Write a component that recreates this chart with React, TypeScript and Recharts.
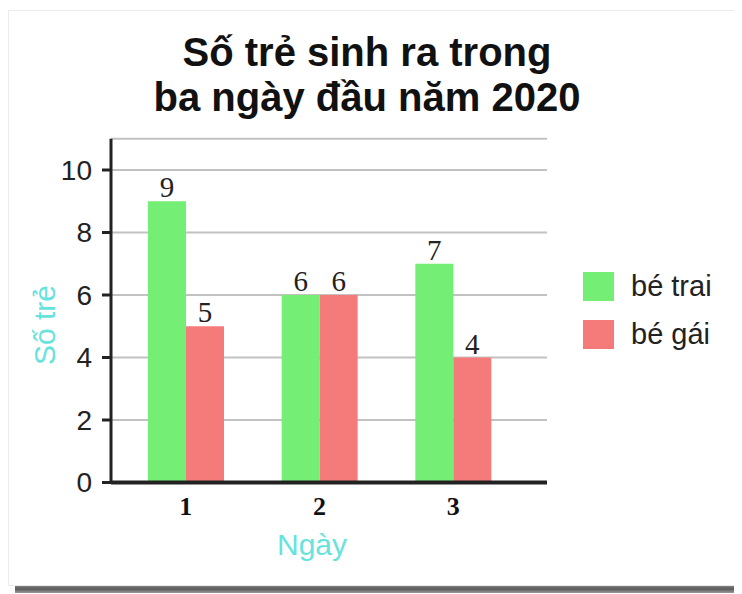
import React from "react";
import { BarChart, Bar, XAxis, YAxis, CartesianGrid, Legend, LabelList } from "recharts";

const days = ["1", "2", "3"];
const boys = [9, 6, 7];
const girls = [5, 6, 4];
const yTicks = [0, 2, 4, 6, 8, 10];
const titleLines = ["Số trẻ sinh ra trong", "ba ngày đầu năm 2020"];
const seriesNames = ["bé trai", "bé gái"];
const xLabel = "Ngày";
const yLabel = "Số trẻ";

const GREEN = "#74ee74";
const RED = "#f57a7a";
const CYAN = "#66e3dd";
const SANS = "'Liberation Sans', Arial, Helvetica, sans-serif";
const SERIF = "'Liberation Serif', 'Times New Roman', serif";

const data = days.map((d, i) => ({ day: d, boys: boys[i], girls: girls[i] }));

const W = 726;
const H = 578;

function LegendContent(props: any) {
  const payload = [...(props.payload || [])].sort(
    (a: any, b: any) => seriesNames.indexOf(a.value) - seriesNames.indexOf(b.value)
  );
  return (
    <div style={{ fontFamily: SANS, fontSize: 29, color: "#222" }}>
      {payload.map((p: any) => (
        <div key={p.value} style={{ display: "flex", alignItems: "center", height: 48 }}>
          <div style={{ width: 31, height: 29, background: p.color }} />
          <span style={{ marginLeft: 17 }}>{p.value}</span>
        </div>
      ))}
    </div>
  );
}

export default function App() {
  return (
    <div style={{ position: "relative", width: 734, height: 586 }}>
      <div
        style={{
          position: "absolute",
          left: 7,
          top: 577,
          width: 727,
          height: 8,
          background: "linear-gradient(#8a8a8a, #5a5a5a 50%, #9a9a9a)",
        }}
      />
      <div
        style={{
          position: "absolute",
          left: 729,
          top: 10,
          width: 4,
          height: 570,
          background: "linear-gradient(90deg, #d0d0d0, #9a9a9a)",
        }}
      />
      <div
        style={{
          position: "absolute",
          left: 0,
          top: 2,
          width: 728,
          height: 574,
          background: "#fff",
          border: "1px solid #ececec",
        }}
      />
      <div style={{ position: "absolute", left: 0, top: 0 }}>
        <BarChart
          width={W}
          height={H}
          data={data}
          margin={{ top: 130.75, right: 187, bottom: 53.5, left: 43 }}
          barGap={0}
          barSize={38}
        >
          <CartesianGrid vertical={false} stroke="#c2c2c2" strokeWidth={2} />
          <XAxis
            dataKey="day"
            height={50}
            padding={{ left: 8, right: 27 }}
            axisLine={{ stroke: "#222", strokeWidth: 4 }}
            tickLine={false}
            tickSize={6}
            tickMargin={8}
            tick={{ fill: "#111", fontSize: 26, fontWeight: "bold", fontFamily: SERIF }}
          />
          <YAxis
            width={60}
            domain={[0, 11]}
            ticks={yTicks}
            axisLine={{ stroke: "#222", strokeWidth: 3 }}
            tickLine={{ stroke: "#222", strokeWidth: 3 }}
            tickSize={9}
            tickMargin={10}
            tick={{ fill: "#222", fontSize: 28, fontFamily: SANS }}
          />
          <Legend
            layout="horizontal"
            verticalAlign="middle"
            align="center"
            content={<LegendContent />}
            wrapperStyle={{ left: 575, top: 254, width: 150 }}
          />
          <Bar dataKey="boys" name={seriesNames[0]} fill={GREEN} isAnimationActive={false}>
            <LabelList dataKey="boys" position="top" offset={4} fill="#222" fontSize={29} fontFamily={SERIF} />
          </Bar>
          <Bar dataKey="girls" name={seriesNames[1]} fill={RED} isAnimationActive={false}>
            <LabelList dataKey="girls" position="top" offset={4} fill="#222" fontSize={29} fontFamily={SERIF} />
          </Bar>
        </BarChart>
      </div>
      <svg
        width={W}
        height={H}
        style={{ position: "absolute", left: 0, top: 0, pointerEvents: "none" }}
      >
        <text x={359} y={58} textAnchor="middle" fontFamily={SANS} fontWeight="bold" fontSize={40} fill="#111">
          {titleLines[0]}
        </text>
        <text x={359} y={103} textAnchor="middle" fontFamily={SANS} fontWeight="bold" fontSize={40} fill="#111">
          {titleLines[1]}
        </text>
        <text x={304} y={547} textAnchor="middle" fontFamily={SANS} fontSize={30} fill={CYAN}>
          {xLabel}
        </text>
        <text
          x={47}
          y={317}
          textAnchor="middle"
          fontFamily={SANS}
          fontSize={30}
          fill={CYAN}
          transform="rotate(-90, 47, 317)"
        >
          {yLabel}
        </text>
      </svg>
    </div>
  );
}
